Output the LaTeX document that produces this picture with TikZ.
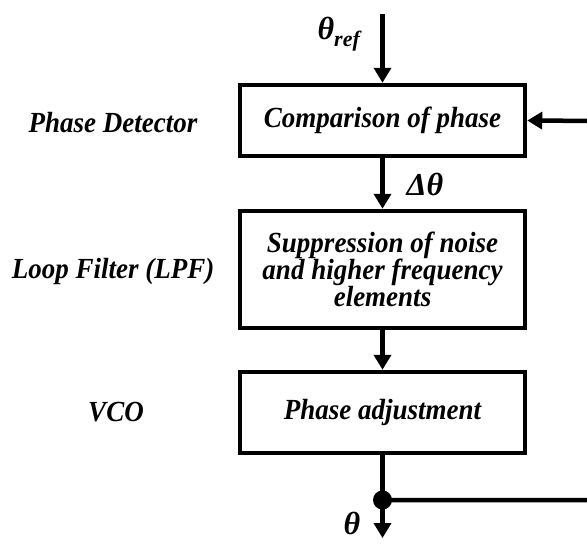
\documentclass[tikz,border=0pt]{standalone}
\usepackage{fontspec}
\usepackage{graphicx}
\setmainfont{Liberation Serif}
\usetikzlibrary{arrows.meta}
\newcommand{\talltext}[1]{\scalebox{1}[1.08]{#1}}
\begin{document}
\begin{tikzpicture}[x=1pt,y=-1pt,
  every node/.style={font=\fontsize{27}{27}\selectfont\bfseries\itshape, inner sep=0pt},
  sym/.style={font=\fontsize{32}{32}\selectfont\bfseries\itshape},
  blk/.style={draw, line width=4.5pt, minimum width=285pt, align=center},
  conn/.style={line width=4.5pt, -{Triangle[length=15pt,width=17pt]}},
  wire/.style={line width=4.5pt}]
\useasboundingbox (0,0) rectangle (587,547);
\clip (0,0) rectangle (587,547);
\node[blk, minimum height=71pt] (pd) at (382.5,120.5) {\talltext{Comparison of phase}};
\node[blk, minimum height=117pt] (lf) at (382.5,269.5) {\talltext{Suppression of noise}\\\talltext{and higher frequency}\\\talltext{elements}};
\node[blk, minimum height=81pt] (vco) at (382.5,412.5) {\talltext{Phase adjustment}};
\node (lpd) at (113,123) {\talltext{Phase Detector}};
\node (llf) at (113,271) {\talltext{Loop Filter (LPF)}};
\node (lvco) at (116,412) {\talltext{VCO}};
\coordinate (in) at (382.5,14);
\coordinate (out) at (382.5,538);
\coordinate (br) at (600,500);
\coordinate (tr) at (600,121);
\node[circle, fill, minimum size=19pt] (dot) at (382.5,500) {};
\node[sym] (tref) at (339,34) {θ\textsubscript{\fontsize{22}{22}\selectfont ref}};
\node[sym] (dth) at (425,184) {Δθ};
\node[sym] (th) at (352,523) {θ};
\draw[conn] (in) -- (pd.north);
\draw[conn] (pd.south) -- (lf.north);
\draw[conn] (lf.south) -- (vco.north);
\draw[wire] (vco.south) -- (dot.center);
\draw[conn] (dot.center) -- (out);
\draw[conn] (dot.center) -- (br) -- (tr) -- (pd.east);
\end{tikzpicture}
\end{document}
